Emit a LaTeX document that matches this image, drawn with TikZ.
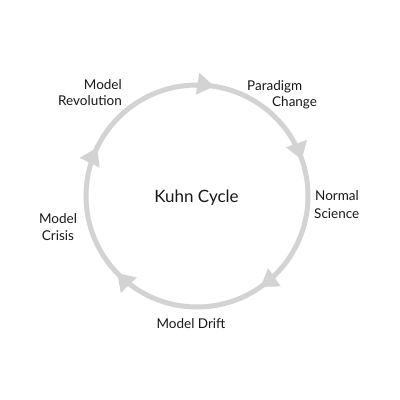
\documentclass[tikz,border=0pt]{standalone}
\usepackage{fontspec}
\setmainfont{Lato}
\usetikzlibrary{arrows.meta,decorations.markings}
\definecolor{ringgray}{RGB}{211,211,211}
\definecolor{txt}{RGB}{25,25,25}
\begin{document}
\begin{tikzpicture}[x=1pt,y=1pt,
  lbl/.style={inner sep=0pt,text=txt,font=\fontsize{13.5}{16}\selectfont},
  title/.style={inner sep=0pt,text=txt,font=\fontsize{17}{20}\selectfont},
  ring/.style={draw=ringgray,line width=5pt,
    decoration={markings,
      mark=at position 0.025 with {\arrow{Triangle[length=17pt,width=21pt]}},
      mark=at position 0.197 with {\arrow{Triangle[length=17pt,width=21pt]}},
      mark=at position 0.403 with {\arrow{Triangle[length=17pt,width=21pt]}},
      mark=at position 0.628 with {\arrow{Triangle[length=17pt,width=21pt]}},
      mark=at position 0.822 with {\arrow{Triangle[length=17pt,width=21pt]}}},
    postaction={decorate}}]
\useasboundingbox[fill=white] (0,0) rectangle (400,400);
\coordinate (c) at (197,204);
\draw[ring,ringgray] (c) ++(90:111) arc[start angle=90,end angle=-270,radius=111];
\node[title,anchor=base] (kuhn) at (196.5,197) {Kuhn Cycle};
\node[lbl,anchor=base east] (rev1) at (122,310) {Model};
\node[lbl,anchor=base east] (rev2) at (122,294) {Revolution};
\node[lbl,anchor=base west] (par1) at (247,309) {Paradigm};
\node[lbl,anchor=base west] (par2) at (272,293) {Change};
\node[lbl,anchor=base west] (nor1) at (315,199) {Normal};
\node[lbl,anchor=base west] (nor2) at (314,182) {Science};
\node[lbl,anchor=base] (cri1) at (58,176) {Model};
\node[lbl,anchor=base] (cri2) at (58,160) {Crisis};
\node[lbl,anchor=base] (drift) at (191,71) {Model Drift};
\end{tikzpicture}
\end{document}
